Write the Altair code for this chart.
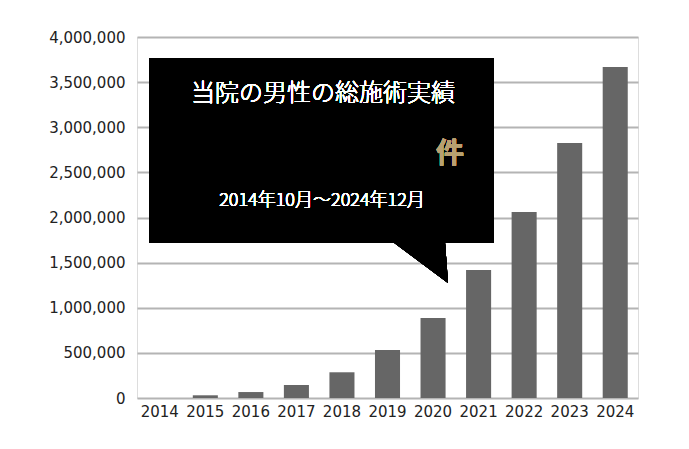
import altair as alt
import pandas as pd

years = ["2014", "2015", "2016", "2017", "2018", "2019", "2020", "2021", "2022", "2023", "2024"]
counts = [0, 30000, 66000, 144000, 285000, 532000, 887000, 1418000, 2061000, 2825000, 3667000]
y_ticks = [0, 500000, 1000000, 1500000, 2000000, 2500000, 3000000, 3500000, 4000000]

title_text = "当院の男性の総施術実績"
unit_text = "件"
period_text = "2014年10月～2024年12月"

FONT = "Noto Sans CJK JP"
AXIS_FONT = "DejaVu Sans"
df = pd.DataFrame({"year": years, "count": counts})

W, H = 501, 361

bars = alt.Chart(df).mark_bar(color="#666666").encode(
    x=alt.X("year:N", sort=years, scale=alt.Scale(paddingInner=0.45, paddingOuter=0.225),
            axis=alt.Axis(title=None, labelAngle=0, ticks=False, domain=False,
                          labelFontSize=15, labelColor="#222222", labelFont=AXIS_FONT,
                          labelPadding=6)),
    y=alt.Y("count:Q", scale=alt.Scale(domain=[0, 4000000]),
            axis=alt.Axis(title=None, values=y_ticks, format=",d", ticks=False, domain=False,
                          gridColor="#b4b4b4", gridWidth=2, gridOpacity=1,
                          labelFontSize=15, labelColor="#222222", labelFont=AXIS_FONT,
                          labelPadding=12)),
)

box = alt.Chart(df).mark_rect(color="#000000").encode(
    x=alt.value(149 - 137), x2=alt.value(494 - 137),
    y=alt.value(58 - 37), y2=alt.value(243 - 37),
)

# tail triangle as a custom symbol (path in [-1,1] box)
tail = alt.Chart(df).mark_point(
    shape="M-0.964,-0.75 L1,0.714 L0.893,-0.75 Z", filled=True, color="#000000",
    size=56 * 56, opacity=1, strokeWidth=0,
).encode(x=alt.value(420 - 137), y=alt.value(263 - 37))

t1 = alt.Chart(df).mark_text(text=title_text, font=FONT, fontSize=24, fontWeight=300,
                             color="#ffffff").encode(
    x=alt.value(323 - 137), y=alt.value(94 - 37))
t2 = alt.Chart(df).mark_text(text=unit_text, font=FONT, fontSize=28, fontWeight=700,
                             color="#b8a070").encode(
    x=alt.value(450 - 137), y=alt.value(155 - 37))
t3 = alt.Chart(df).mark_text(text=period_text, font=FONT, fontSize=18, fontWeight=300,
                             color="#ffffff").encode(
    x=alt.value(322 - 137), y=alt.value(201 - 37))

chart = alt.layer(bars, box, tail, t1, t2, t3).properties(
    width=W, height=H,
    autosize=alt.AutoSizeParams(type="none"),
    padding={"left": 129, "top": 29, "right": 30, "bottom": 40},
).configure_view(strokeWidth=0).configure(background="#ffffff")

chart.save("out.html", embed_options={"renderer": "svg", "actions": False})
